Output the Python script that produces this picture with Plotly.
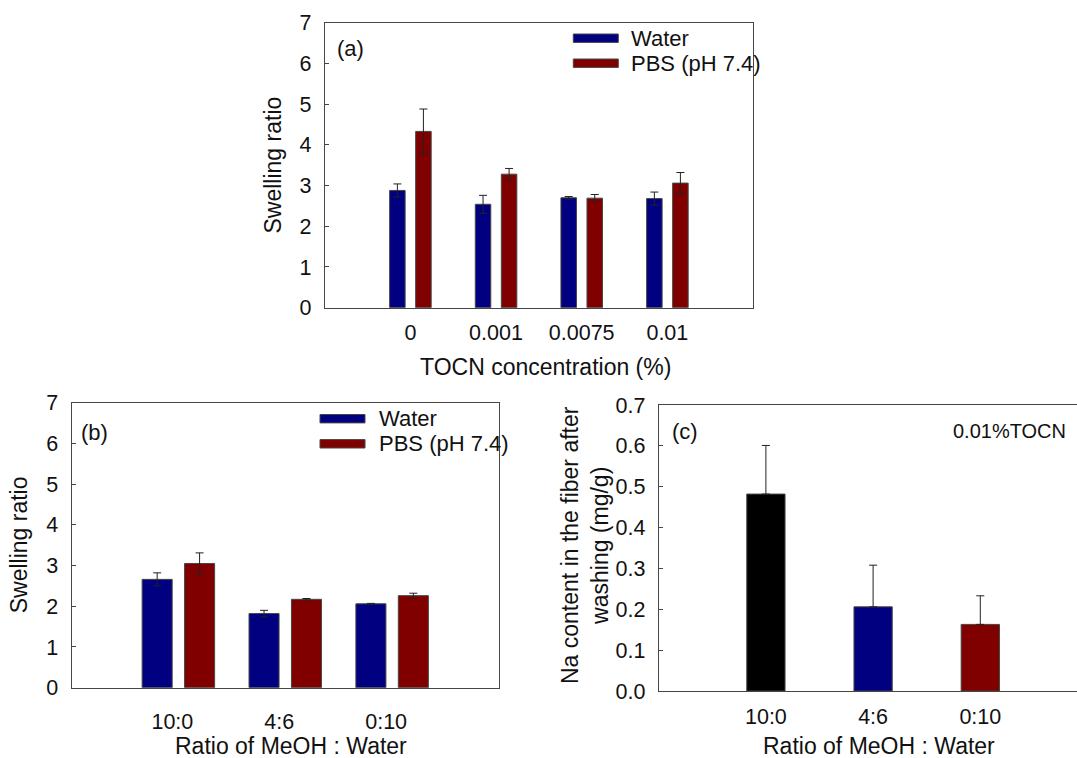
import plotly.graph_objects as go

W, H = 1077, 758

# ---------------- data ----------------
tocn_cats = ["0", "0.001", "0.0075", "0.01"]
a_water = [2.88, 2.54, 2.70, 2.68]
a_water_err = [0.16, 0.22, 0.03, 0.16]
a_pbs = [4.33, 3.28, 2.69, 3.06]
a_pbs_err = [0.55, 0.14, 0.09, 0.26]

ratio_cats = ["10:0", "4:6", "0:10"]
b_water = [2.66, 1.82, 2.06]
b_water_err = [0.16, 0.08, 0.01]
b_pbs = [3.05, 2.17, 2.26]
b_pbs_err = [0.26, 0.02, 0.06]

c_na = [0.482, 0.206, 0.163]
c_na_err = [0.119, 0.102, 0.070]

series_names = ["Water", "PBS (pH 7.4)"]
y_ticks_sw = [0, 1, 2, 3, 4, 5, 6, 7]
y_ticks_na = [0.0, 0.1, 0.2, 0.3, 0.4, 0.5, 0.6, 0.7]

# ---------------- style ----------------
NAVY = "#000080"
DRED = "#800000"
BLACK = "#000000"
LINE = "rgb(70,70,70)"
FONT = "Liberation Sans, Arial, sans-serif"
TICKF = 21.5
TITLEF = 23


def px(x):
    return x / W


def py(y):
    return 1 - y / H


def err(arr, minus=None):
    d = dict(type="data", array=arr, visible=True, color="#222222", thickness=1, width=4)
    if minus is not None:
        d["arrayminus"] = minus
        d["symmetric"] = False
    return d


fig = go.Figure()

fig.add_trace(go.Bar(x=tocn_cats, y=a_water, name=series_names[0], marker=dict(color=NAVY, line=dict(color=LINE, width=1)),
                     width=0.181, offset=-0.242, error_y=err(a_water_err), xaxis="x", yaxis="y"))
fig.add_trace(go.Bar(x=tocn_cats, y=a_pbs, name=series_names[1], marker=dict(color=DRED, line=dict(color=LINE, width=1)),
                     width=0.181, offset=0.062, error_y=err(a_pbs_err), xaxis="x", yaxis="y"))
fig.add_trace(go.Bar(x=ratio_cats, y=b_water, name=series_names[0], marker=dict(color=NAVY, line=dict(color=LINE, width=1)),
                     width=0.281, offset=-0.339, error_y=err(b_water_err), xaxis="x2", yaxis="y2"))
fig.add_trace(go.Bar(x=ratio_cats, y=b_pbs, name=series_names[1], marker=dict(color=DRED, line=dict(color=LINE, width=1)),
                     width=0.281, offset=0.058, error_y=err(b_pbs_err), xaxis="x2", yaxis="y2"))
fig.add_trace(go.Bar(x=ratio_cats, y=c_na, marker=dict(color=[BLACK, NAVY, DRED], line=dict(color=LINE, width=1)),
                     width=0.357, offset=-0.1785, error_y=err(c_na_err, [0, 0, 0]), xaxis="x3", yaxis="y3"))

axis_common = dict(showline=True, linecolor=LINE, linewidth=1, mirror=True, showgrid=False, zeroline=False,
                   automargin=False, tickfont=dict(family=FONT, size=TICKF, color="#111"))

xcommon = dict(axis_common, ticks="", type="category")
ycommon = dict(axis_common, ticks="inside", ticklen=4, tickcolor=LINE, ticklabelstandoff=8)

fig.update_layout(
    width=W, height=H, autosize=False, margin=dict(l=0, r=0, t=0, b=0, pad=0, autoexpand=False),
    paper_bgcolor="white", plot_bgcolor="white", showlegend=False,
    font=dict(family=FONT, color="#111"),
    xaxis=dict(xcommon, domain=[px(324.7), px(753)], range=[-1, 4], anchor="y", ticklabelstandoff=5),
    yaxis=dict(ycommon, domain=[py(307.7), py(22.7)], range=[0, 7], tickvals=y_ticks_sw, anchor="x"),
    xaxis2=dict(xcommon, domain=[px(71.5), px(499)], range=[-1, 3], anchor="y2", ticklabelshift=-6, ticklabelstandoff=14),
    yaxis2=dict(ycommon, domain=[py(687.7), py(402.6)], range=[0, 7], tickvals=y_ticks_sw, anchor="x2"),
    xaxis3=dict(xcommon, domain=[px(658.7), 1.0], range=[-1, 2.902], anchor="y3", ticklabelstandoff=6),
    yaxis3=dict(ycommon, domain=[py(691), py(405)], range=[0, 0.7], tickvals=y_ticks_na, tickformat=".1f",
                anchor="x3", mirror=False),
)

ann = []


def text(x, y, s, size=TITLEF, xanchor="center", angle=0):
    ann.append(dict(x=px(x), y=py(y), xref="paper", yref="paper", text=s, showarrow=False,
                    xanchor=xanchor, yanchor="middle", textangle=angle,
                    font=dict(family=FONT, size=size, color="#111")))


text(272.5, 165, "Swelling ratio", angle=-90)
text(545, 366.7, "TOCN concentration (%)")
text(19.3, 545, "Swelling ratio", angle=-90)
text(290.5, 745.5, "Ratio of MeOH : Water")
text(585, 545, "Na content in the fiber after<br>washing (mg/g)", angle=-90)
text(879, 745.5, "Ratio of MeOH : Water")

text(335, 48, "(a)", size=22, xanchor="left")
text(79, 432.7, "(b)", size=22, xanchor="left")
text(670, 431.7, "(c)", size=22, xanchor="left")
text(1068, 431, "0.01%TOCN", size=20, xanchor="right")

shapes = []
for (lx, ly_list, tx) in [(573.3, [38.2, 63.2], 629.3), (320, [418.7, 443.8], 376.7)]:
    for name, col, ly in zip(series_names, [NAVY, DRED], ly_list):
        shapes.append(dict(type="rect", xref="paper", yref="paper", x0=px(lx), x1=px(lx + 45),
                           y0=py(ly - 4.2), y1=py(ly + 4.2), fillcolor=col, line=dict(color=LINE, width=1)))
        text(tx, ly, name, size=22, xanchor="left")

fig.update_layout(annotations=ann, shapes=shapes)

fig.write_html("out.html", config={"displayModeBar": False},
               post_script="document.body.style.margin='0';document.body.style.padding='0';document.body.style.overflow='hidden';")
